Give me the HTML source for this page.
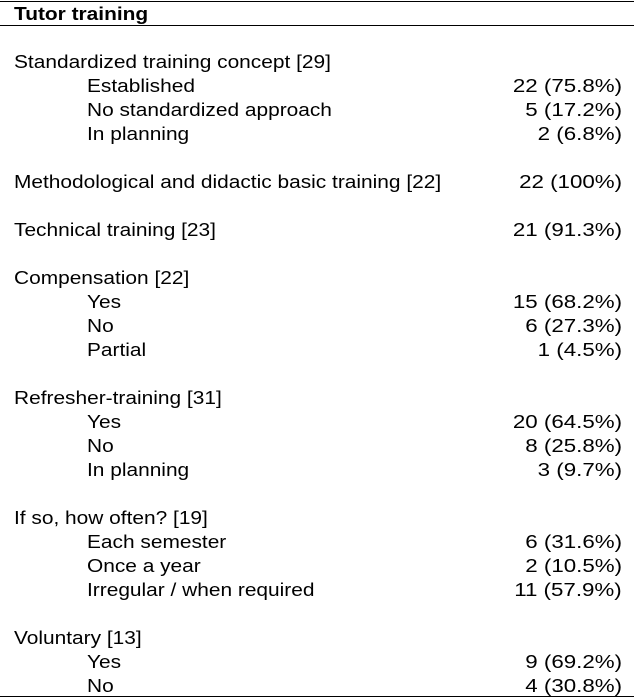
<!DOCTYPE html>
<html><head><style>
body{margin:0;width:634px;height:698px;background:#fff;position:relative;font-family:"Liberation Sans",Arial,sans-serif;font-size:18px;color:#000;overflow:hidden}
.r{position:absolute;left:0;width:634px;height:24px;line-height:24px}
.l{position:absolute;left:14px;white-space:nowrap;transform:scaleX(1.16);transform-origin:left center}
.i{left:87px}
.v{position:absolute;right:12px;white-space:nowrap;transform:scaleX(1.24);transform-origin:right center}
.hl{position:absolute;left:0;width:634px;height:1px;background:#000}
</style></head><body>
<div class="hl" style="top:1px"></div>
<div class="r" style="top:2px"><span class="l" style="font-weight:bold">Tutor training</span></div>
<div class="hl" style="top:25px"></div>
<div class="r" style="top:50px"><span class="l">Standardized training concept [29]</span></div>
<div class="r" style="top:74px"><span class="l i">Established</span><span class="v">22 (75.8%)</span></div>
<div class="r" style="top:98px"><span class="l i">No standardized approach</span><span class="v">5 (17.2%)</span></div>
<div class="r" style="top:122px"><span class="l i">In planning</span><span class="v">2 (6.8%)</span></div>
<div class="r" style="top:170px"><span class="l">Methodological and didactic basic training [22]</span><span class="v">22 (100%)</span></div>
<div class="r" style="top:218px"><span class="l">Technical training [23]</span><span class="v">21 (91.3%)</span></div>
<div class="r" style="top:266px"><span class="l">Compensation [22]</span></div>
<div class="r" style="top:290px"><span class="l i">Yes</span><span class="v">15 (68.2%)</span></div>
<div class="r" style="top:314px"><span class="l i">No</span><span class="v">6 (27.3%)</span></div>
<div class="r" style="top:338px"><span class="l i">Partial</span><span class="v">1 (4.5%)</span></div>
<div class="r" style="top:386px"><span class="l">Refresher-training [31]</span></div>
<div class="r" style="top:410px"><span class="l i">Yes</span><span class="v">20 (64.5%)</span></div>
<div class="r" style="top:434px"><span class="l i">No</span><span class="v">8 (25.8%)</span></div>
<div class="r" style="top:458px"><span class="l i">In planning</span><span class="v">3 (9.7%)</span></div>
<div class="r" style="top:506px"><span class="l">If so, how often? [19]</span></div>
<div class="r" style="top:530px"><span class="l i">Each semester</span><span class="v">6 (31.6%)</span></div>
<div class="r" style="top:554px"><span class="l i">Once a year</span><span class="v">2 (10.5%)</span></div>
<div class="r" style="top:578px"><span class="l i">Irregular / when required</span><span class="v">11 (57.9%)</span></div>
<div class="r" style="top:626px"><span class="l">Voluntary [13]</span></div>
<div class="r" style="top:650px"><span class="l i">Yes</span><span class="v">9 (69.2%)</span></div>
<div class="r" style="top:674px"><span class="l i">No</span><span class="v">4 (30.8%)</span></div>
<div class="hl" style="top:696px"></div>
</body></html>
